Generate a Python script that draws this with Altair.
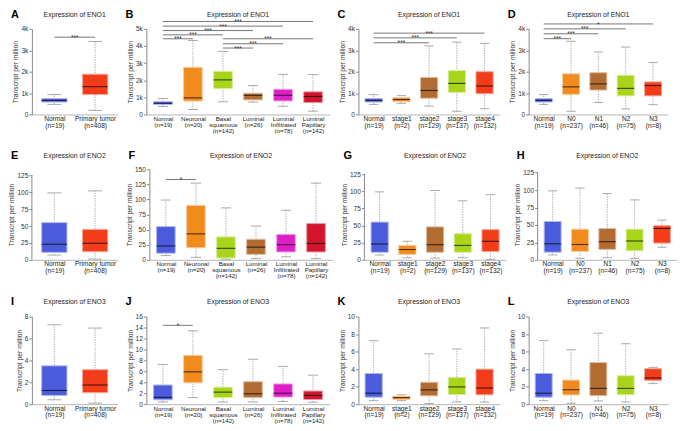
import altair as alt
import pandas as pd

FONT = "Liberation Sans"

# ---------------- data ----------------
# Row 1 : ENO1 (TPM)
A_cats = ["Normal", "Primary tumor"]
A_n = [19, 408]
A_min = [470, 190]
A_q1 = [580, 930]
A_med = [660, 1300]
A_q3 = [740, 1880]
A_max = [930, 3410]
A_sig = [(0, 1, 3610, "***")]

B_cats = ["Normal", "Neuronal", "Basal squamous", "Luminal", "Luminal Infiltrated", "Luminal Papillary"]
B_n = [19, 20, 142, 26, 78, 142]
B_min = [470, 290, 740, 720, 480, 190]
B_q1 = [580, 780, 1510, 850, 790, 700]
B_med = [660, 970, 2020, 1120, 1120, 1050]
B_q3 = [740, 2750, 2520, 1240, 1470, 1320]
B_max = [930, 4320, 3680, 1690, 2340, 2330]
B_sig = [(0, 1, 4420, "***"), (0, 2, 4650, "***"), (0, 3, 4900, "***"), (0, 4, 5160, "***"),
         (0, 5, 5430, "***"), (2, 3, 3880, "***"), (2, 4, 4130, "***"), (2, 5, 4420, "***")]

C_cats = ["Normal", "stage1", "stage2", "stage3", "stage4"]
C_n = [19, 2, 129, 137, 132]
C_min = [470, 520, 390, 150, 270]
C_q1 = [580, 600, 760, 1030, 970]
C_med = [660, 700, 1120, 1450, 1330]
C_q3 = [740, 780, 1730, 2050, 2000]
C_max = [930, 880, 3200, 3380, 3320]
C_sig = [(0, 4, 3800, "***"), (0, 3, 3580, "***"), (0, 2, 3350, "***")]

D_cats = ["Normal", "N0", "N1", "N2", "N3"]
D_n = [19, 237, 46, 75, 8]
D_min = [470, 150, 560, 260, 460]
D_q1 = [580, 940, 1140, 870, 870]
D_med = [660, 1290, 1430, 1220, 1350]
D_q3 = [740, 1900, 1950, 1830, 1520]
D_max = [930, 3420, 2920, 3150, 2430]
D_sig = [(0, 4, 4230, "*"), (0, 3, 4000, "***"), (0, 2, 3770, "***"), (0, 1, 3540, "***")]

# Row 2 : ENO2
E_cats = A_cats
E_n = A_n
E_min = [7, 1]
E_q1 = [11, 12]
E_med = [23, 24.5]
E_q3 = [55, 45]
E_max = [99, 102]
E_sig = []

F_cats = B_cats
F_n = B_n
F_min = [7, 4, 1, 2, 5, 2]
F_q1 = [11, 20, 3, 9, 13, 13]
F_med = [23, 43, 19, 21, 25, 27]
F_q3 = [55, 90, 38, 34, 42, 60]
F_max = [99, 127, 86, 56, 82, 127]
F_sig = [(0, 1, 133, "*")]

G_cats = C_cats
G_n = C_n
G_min = [7, 3, 2.5, 3, 0.5]
G_q1 = [11, 8, 11, 11, 12]
G_med = [23, 15, 22, 21, 27]
G_q3 = [55, 21, 48, 38, 44]
G_max = [99, 27, 101, 86, 95]
G_sig = []

H_cats = D_cats
H_n = D_n
H_min = [7, 2, 3, 2, 18]
H_q1 = [11, 12, 15, 13, 24]
H_med = [23, 22, 26, 27, 45]
H_q3 = [55, 44, 45, 44, 49]
H_max = [99, 103, 95, 86, 57]
H_sig = []

# Row 3 : ENO3
I_cats = A_cats
I_n = A_n
I_min = [0.4, 0.1]
I_q1 = [0.8, 1.05]
I_med = [1.25, 1.75]
I_q3 = [3.5, 3.15]
I_max = [7.25, 6.95]
I_sig = []

J_cats = B_cats
J_n = B_n
J_min = [0.4, 1.2, 0.4, 0.4, 0.5, 0.35]
J_q1 = [0.8, 3.9, 1.2, 1.2, 1.3, 0.85]
J_med = [1.25, 5.9, 2.2, 1.9, 2.0, 1.6]
J_q3 = [3.5, 8.9, 3.1, 4.1, 3.7, 2.4]
J_max = [7.25, 13.4, 6.3, 8.2, 6.9, 5.3]
J_sig = [(0, 1, 14.4, "*")]

K_cats = C_cats
K_n = C_n
K_min = [0.4, 0.4, 0.07, 0.25, 0.25]
K_q1 = [0.8, 0.55, 0.95, 1.1, 1.07]
K_med = [1.25, 0.75, 1.63, 1.97, 1.85]
K_q3 = [3.5, 0.9, 2.5, 3.05, 4.0]
K_max = [7.25, 1.07, 5.75, 6.3, 8.7]
K_sig = []

L_cats = D_cats
L_n = D_n
L_min = [0.4, 0.1, 0.37, 0.26, 2.35]
L_q1 = [0.8, 1.05, 0.97, 1.08, 2.7]
L_med = [1.25, 1.65, 1.8, 1.8, 3.0]
L_q3 = [3.5, 2.75, 4.75, 3.25, 4.05]
L_max = [7.25, 6.2, 8.1, 6.9, 4.2]
L_sig = []

# ---------------- style ----------------
PALETTE = {
    "Normal": "#4A5CDC", "Primary tumor": "#F23C1A", "Neuronal": "#F28B1E",
    "Basal squamous": "#A8D41A", "Luminal": "#B26B30", "Luminal Infiltrated": "#DE1FC8",
    "Luminal Papillary": "#D2142C", "stage1": "#F28B1E", "stage2": "#B26B30",
    "stage3": "#A8D41A", "stage4": "#F23C1A", "N0": "#F28B1E", "N1": "#B26B30",
    "N2": "#A8D41A", "N3": "#F23C1A",
}


def mix(hexcol, other, t):
    a = [int(hexcol[i:i + 2], 16) for i in (1, 3, 5)]
    b = [int(other[i:i + 2], 16) for i in (1, 3, 5)]
    c = [round(a[k] * (1 - t) + b[k] * t) for k in range(3)]
    return "#%02x%02x%02x" % tuple(c)


def panel(letter, gene, cats, ns, mins, q1s, meds, q3s, maxs, sigs,
          axis_top, tstep, kfmt, w, h, wide, title_y, scale_top=None):
    n = len(cats)
    half = 0.31
    caph = 0.17
    ymax = scale_top if scale_top else axis_top
    df = pd.DataFrame({
        "cat": cats, "idx": list(range(n)), "mn": mins, "q1": q1s,
        "md": meds, "q3": q3s, "mx": maxs,
    })
    df["bl"] = df["idx"] - half
    df["br"] = df["idx"] + half
    df["cl"] = df["idx"] - caph
    df["cr"] = df["idx"] + caph
    df["fill"] = [PALETTE[c] for c in cats]
    df["edge"] = [mix(PALETTE[c], "#ffffff", 0.55) for c in cats]
    df["dark"] = [mix(PALETTE[c], "#000000", 0.68) for c in cats]

    nb = "\u00a0"
    labs = []
    for c, k in zip(cats, ns):
        if wide:
            parts = c.split(" ")
            if len(parts) == 1:
                parts = parts + [nb]
            lines = parts + [nb, f"(n={k})"]
        else:
            lines = [c, f"(n={k})"]
        labs.append("|".join(lines))
    arr = "[" + ",".join("'" + s + "'" for s in labs) + "]"
    xexpr = f"split({arr}[datum.value], '|')"

    xs = alt.Scale(domain=[-0.55, n - 0.45], nice=False, zero=False)
    ys = alt.Scale(domain=[0, ymax], nice=False, zero=True)
    ticks = []
    v = 0
    while v <= axis_top + 1e-9:
        ticks.append(v)
        v += tstep
    if kfmt:
        yexpr = "datum.value == 0 ? '0' : format(datum.value / 1000, 'd') + 'k'"
    else:
        yexpr = "datum.label"

    xaxis = alt.Axis(values=list(range(n)), labelExpr=xexpr, ticks=False, grid=False,
                     domainColor="#b5b5b5", domainWidth=1,
                     labelFontSize=6.2 if wide else 6.6,
                     labelLineHeight=6.0 if wide else 6.6, labelPadding=1.2, title=None,
                     labelColor="#222", labelAngle=0, labelFont=FONT, labelBaseline="top",
                     labelOverlap=False)
    yaxis = alt.Axis(values=ticks, labelExpr=yexpr, title="Transcript per million", grid=False,
                     titleFontSize=6.8, titleFontWeight="normal", titleColor="#333",
                     titleFont=FONT, titlePadding=2, labelFontSize=6.6, labelFont=FONT,
                     labelColor="#333", labelPadding=1, tickSize=3, tickColor="#888",
                     domainColor="#888", labelFlush=False,
                     domain=(scale_top is None))

    def X(f):
        return alt.X(f, scale=xs, axis=xaxis, title=None)

    def Y(f):
        return alt.Y(f, scale=ys, axis=yaxis, title="Transcript per million")

    base = alt.Chart(df)
    whisk = base.mark_rule(color="#9a9a9a", strokeDash=[1.4, 1.1], strokeWidth=0.8).encode(
        x=X("idx:Q"), y=Y("mn:Q"), y2="mx:Q")
    cap_top = base.mark_rule(color="#a0a0a0", strokeWidth=0.9).encode(
        x=X("cl:Q"), x2="cr:Q", y=Y("mx:Q"))
    cap_bot = base.mark_rule(color="#a0a0a0", strokeWidth=0.9).encode(
        x=X("cl:Q"), x2="cr:Q", y=Y("mn:Q"))
    box = base.mark_rect(strokeWidth=1).encode(
        x=X("bl:Q"), x2="br:Q", y=Y("q1:Q"), y2="q3:Q",
        fill=alt.Fill("fill:N", scale=None),
        stroke=alt.Stroke("edge:N", scale=None),
    )
    med = base.mark_rule(strokeWidth=1.1).encode(
        x=X("bl:Q"), x2="br:Q", y=Y("md:Q"),
        color=alt.Color("dark:N", scale=None),
    )
    layers = [whisk, cap_top, cap_bot, box, med]

    if scale_top is not None:
        adf = pd.DataFrame({"y0": [0], "y1": [axis_top]})
        aline = alt.Chart(adf).mark_rule(color="#888", strokeWidth=1).encode(
            x=alt.value(0), y=Y("y0:Q"), y2="y1:Q")
        layers.append(aline)

    if sigs:
        sdf = pd.DataFrame({
            "a": [s[0] for s in sigs], "b": [s[1] for s in sigs],
            "y": [s[2] for s in sigs], "t": [s[3] for s in sigs],
        })
        sdf["mid"] = (sdf["a"] + sdf["b"]) / 2
        sline = alt.Chart(sdf).mark_rule(color="#555555", strokeWidth=0.8).encode(
            x=X("a:Q"), x2="b:Q", y=Y("y:Q"))
        stext = alt.Chart(sdf).mark_text(fontSize=6.5, font=FONT, baseline="alphabetic",
                                         dy=2.6, color="#333").encode(
            x=X("mid:Q"), y=Y("y:Q"), text="t:N")
        layers += [sline, stext]

    tdf = pd.DataFrame({"t": [f"Expression of {gene}"]})
    title = alt.Chart(tdf).mark_text(fontSize=6.9, font=FONT, color="#222",
                                     baseline="middle", align="center").encode(
        x=alt.value(w / 2), y=alt.value(title_y), text="t:N")
    ldf = pd.DataFrame({"t": [letter]})
    let = alt.Chart(ldf).mark_text(fontSize=11, font=FONT, fontWeight="bold", color="#000",
                                   baseline="middle", align="left").encode(
        x=alt.value(-21), y=alt.value(title_y), text="t:N")
    layers += [title, let]
    return alt.layer(*layers).properties(width=w, height=h)


WA, WB, WC, WD = 86, 184, 142, 140

pA = panel("A", "ENO1", A_cats, A_n, A_min, A_q1, A_med, A_q3, A_max, A_sig, 4000, 1000, True, WA, 86, False, -14)
pB = panel("B", "ENO1", B_cats, B_n, B_min, B_q1, B_med, B_q3, B_max, B_sig, 5000, 1000, True, WB, 86, True, -14)
pC = panel("C", "ENO1", C_cats, C_n, C_min, C_q1, C_med, C_q3, C_max, C_sig, 4000, 1000, True, WC, 86, False, -14)
pD = panel("D", "ENO1", D_cats, D_n, D_min, D_q1, D_med, D_q3, D_max, D_sig, 4000, 1000, True, WD, 86, False, -14)

pE = panel("E", "ENO2", E_cats, E_n, E_min, E_q1, E_med, E_q3, E_max, E_sig, 125, 25, False, WA, 91, False, -13, 134)
pF = panel("F", "ENO2", F_cats, F_n, F_min, F_q1, F_med, F_q3, F_max, F_sig, 150, 25, False, WB, 91, True, -13)
pG = panel("G", "ENO2", G_cats, G_n, G_min, G_q1, G_med, G_q3, G_max, G_sig, 125, 25, False, WC, 91, False, -13, 132)
pH = panel("H", "ENO2", H_cats, H_n, H_min, H_q1, H_med, H_q3, H_max, H_sig, 125, 25, False, WD, 91, False, -13, 130)

pI = panel("I", "ENO3", I_cats, I_n, I_min, I_q1, I_med, I_q3, I_max, I_sig, 8, 2, False, WA, 88, False, -15)
pJ = panel("J", "ENO3", J_cats, J_n, J_min, J_q1, J_med, J_q3, J_max, J_sig, 16, 2, False, WB, 88, True, -15)
pK = panel("K", "ENO3", K_cats, K_n, K_min, K_q1, K_med, K_q3, K_max, K_sig, 10, 2, False, WC, 88, False, -15)
pL = panel("L", "ENO3", L_cats, L_n, L_min, L_q1, L_med, L_q3, L_max, L_sig, 10, 2, False, WD, 88, False, -15)

row1 = alt.hconcat(pA, pB, pC, pD, spacing=8)
row2 = alt.hconcat(pE, pF, pG, pH, spacing=8)
row3 = alt.hconcat(pI, pJ, pK, pL, spacing=8)

chart = alt.vconcat(row1, row2, row3, spacing=10).properties(
    padding={"left": 0, "top": 0, "right": 0, "bottom": 0},
    background="white",
).configure(font=FONT).configure_view(stroke=None)

chart.save("out.html", embed_options={"renderer": "svg", "actions": False})
